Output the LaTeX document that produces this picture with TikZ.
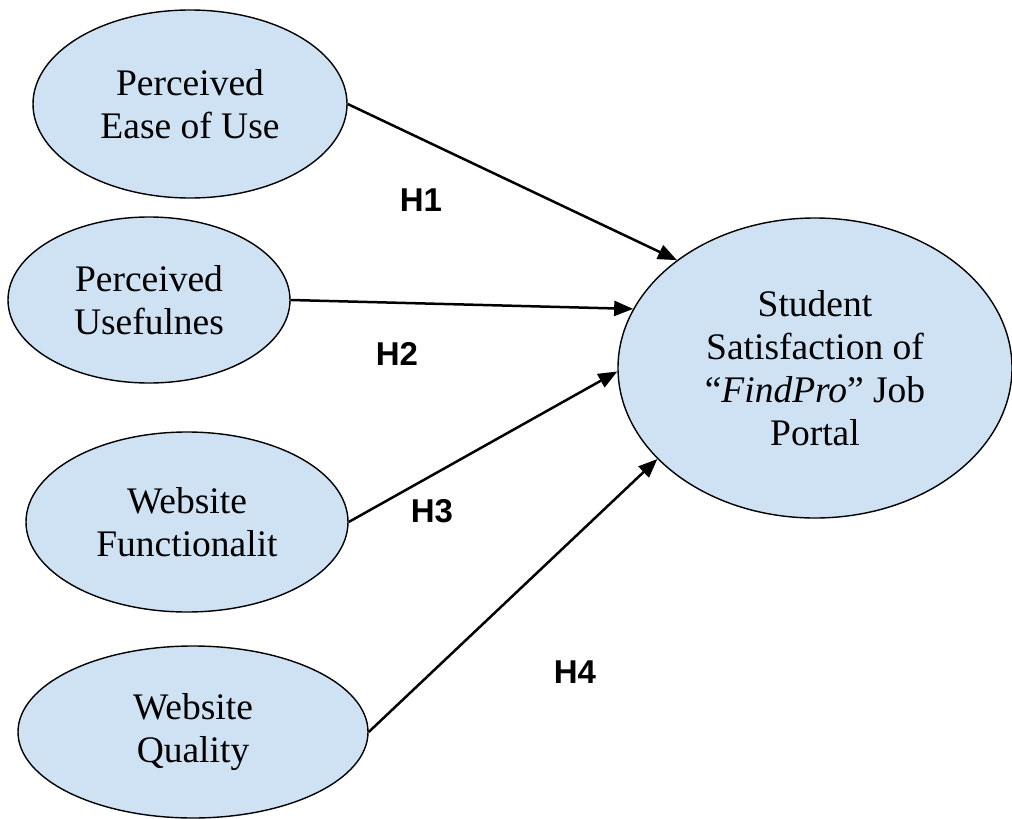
\documentclass[tikz,border=0pt]{standalone}
\usepackage{fontspec}
\setmainfont{Liberation Serif}
\newfontfamily\labelfont{Liberation Sans}
\usetikzlibrary{shapes.geometric,arrows.meta}
\definecolor{bubble}{HTML}{CFE2F3}
\begin{document}
\begin{tikzpicture}[x=1pt,y=-1pt,
  construct/.style={ellipse,draw=black,line width=1.4pt,fill=bubble,inner sep=0pt,
    align=center,font=\fontsize{37.5}{43}\selectfont},
  path/.style={line width=2.5pt,-{Triangle[length=19pt,width=15pt]}},
  hyp/.style={font=\labelfont\bfseries\fontsize{33}{38}\selectfont}]
\useasboundingbox (0,0) rectangle (1012,819);
\node[construct,minimum width=314pt,minimum height=188pt] (peou) at (190,104) {Perceived\\Ease of Use};
\node[construct,minimum width=282pt,minimum height=166pt] (pu) at (149,300) {Perceived\\Usefulnes};
\node[construct,minimum width=322pt,minimum height=180pt] (wf) at (187,522) {Website\\Functionalit};
\node[construct,minimum width=350pt,minimum height=172pt] (wq) at (193,732) {Website\\Quality};
\node[construct,minimum width=394pt,minimum height=300pt] (sat) at (815,368)
  {Student\\Satisfaction of\\``\textit{FindPro}'' Job\\Portal};
\draw[path] (peou.east) -- (sat.142.7);
\draw[path] (pu.east) -- (sat.162.1);
\draw[path] (wf.east) -- (sat.181.2);
\draw[path] (wq.east) -- (sat.210);
\node[hyp] (h1) at (421,200) {H1};
\node[hyp] (h2) at (397,354) {H2};
\node[hyp] (h3) at (432,511) {H3};
\node[hyp] (h4) at (575,672) {H4};
\end{tikzpicture}
\end{document}
